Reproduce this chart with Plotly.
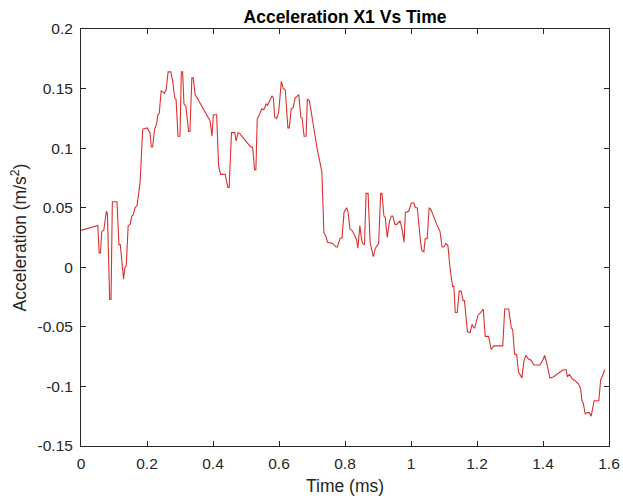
import plotly.graph_objects as go

time_ms = [0.000, 0.051, 0.055, 0.059, 0.063, 0.069, 0.077, 0.080, 0.087, 0.091,
           0.095, 0.109, 0.115, 0.119, 0.129, 0.133, 0.137, 0.143, 0.149, 0.154,
           0.158, 0.164, 0.170, 0.174, 0.177, 0.179, 0.187, 0.201, 0.209, 0.213,
           0.217, 0.223, 0.229, 0.233, 0.237, 0.243, 0.249, 0.253, 0.258, 0.264,
           0.272, 0.278, 0.284, 0.288, 0.294, 0.300, 0.304, 0.308, 0.312, 0.318,
           0.326, 0.330, 0.336, 0.340, 0.346, 0.391, 0.397, 0.401, 0.411, 0.417,
           0.423, 0.437, 0.445, 0.449, 0.456, 0.466, 0.470, 0.476, 0.482, 0.492,
           0.502, 0.514, 0.520, 0.526, 0.530, 0.534, 0.540, 0.548, 0.554, 0.561,
           0.565, 0.571, 0.579, 0.583, 0.587, 0.593, 0.599, 0.607, 0.613, 0.619,
           0.627, 0.631, 0.637, 0.643, 0.649, 0.660, 0.666, 0.670, 0.676, 0.682,
           0.686, 0.692, 0.716, 0.730, 0.736, 0.742, 0.747, 0.763, 0.773, 0.777,
           0.785, 0.791, 0.797, 0.805, 0.809, 0.815, 0.821, 0.829, 0.835, 0.839,
           0.845, 0.849, 0.853, 0.859, 0.864, 0.870, 0.876, 0.880, 0.886, 0.892,
           0.898, 0.902, 0.908, 0.912, 0.918, 0.922, 0.928, 0.932, 0.935, 0.941,
           0.945, 0.951, 0.957, 0.967, 0.973, 0.979, 0.983, 0.993, 1.001, 1.009,
           1.013, 1.019, 1.025, 1.029, 1.033, 1.039, 1.043, 1.049, 1.055, 1.061,
           1.078, 1.088, 1.094, 1.100, 1.106, 1.112, 1.118, 1.126, 1.130, 1.134,
           1.140, 1.146, 1.152, 1.158, 1.162, 1.171, 1.179, 1.185, 1.189, 1.193,
           1.203, 1.211, 1.219, 1.225, 1.235, 1.243, 1.251, 1.260, 1.278, 1.284,
           1.296, 1.304, 1.308, 1.314, 1.320, 1.326, 1.336, 1.342, 1.348, 1.356,
           1.364, 1.372, 1.391, 1.401, 1.405, 1.411, 1.421, 1.431, 1.461, 1.470,
           1.474, 1.480, 1.490, 1.496, 1.508, 1.514, 1.518, 1.522, 1.528, 1.534,
           1.540, 1.546, 1.555, 1.569, 1.575, 1.579, 1.587]

acceleration = [0.031, 0.035, 0.012, 0.012, 0.030, 0.031, 0.047, 0.045, -0.027, -0.027,
                0.055, 0.055, 0.019, 0.019, -0.010, 0.000, 0.001, 0.035, 0.036, 0.043,
                0.044, 0.050, 0.052, 0.063, 0.070, 0.071, 0.116, 0.117, 0.113, 0.101,
                0.101, 0.116, 0.120, 0.128, 0.129, 0.148, 0.147, 0.146, 0.149, 0.164,
                0.164, 0.156, 0.142, 0.141, 0.110, 0.110, 0.164, 0.164, 0.137, 0.135,
                0.114, 0.114, 0.159, 0.159, 0.145, 0.123, 0.110, 0.128, 0.128, 0.085,
                0.078, 0.078, 0.067, 0.067, 0.113, 0.113, 0.106, 0.113, 0.112, 0.108,
                0.105, 0.101, 0.101, 0.082, 0.082, 0.124, 0.128, 0.133, 0.132, 0.137,
                0.136, 0.140, 0.144, 0.142, 0.126, 0.125, 0.130, 0.156, 0.150, 0.149,
                0.117, 0.117, 0.133, 0.134, 0.142, 0.145, 0.126, 0.125, 0.110, 0.110,
                0.141, 0.140, 0.099, 0.080, 0.029, 0.026, 0.021, 0.020, 0.017, 0.017,
                0.024, 0.025, 0.046, 0.050, 0.047, 0.032, 0.031, 0.027, 0.023, 0.016,
                0.035, 0.026, 0.020, 0.019, 0.062, 0.062, 0.021, 0.016, 0.009, 0.016,
                0.019, 0.020, 0.062, 0.062, 0.043, 0.042, 0.025, 0.035, 0.039, 0.043,
                0.043, 0.036, 0.036, 0.039, 0.032, 0.021, 0.046, 0.047, 0.054, 0.054,
                0.050, 0.050, 0.029, 0.021, 0.014, 0.013, 0.024, 0.024, 0.050, 0.048,
                0.036, 0.030, 0.017, 0.017, 0.020, 0.018, 0.000, -0.016, -0.016, -0.038,
                -0.038, -0.020, -0.020, -0.028, -0.028, -0.054, -0.055, -0.048, -0.050, -0.051,
                -0.040, -0.038, -0.035, -0.058, -0.058, -0.069, -0.066, -0.066, -0.066, -0.035,
                -0.035, -0.051, -0.052, -0.073, -0.073, -0.088, -0.093, -0.079, -0.074, -0.077,
                -0.078, -0.082, -0.082, -0.077, -0.074, -0.080, -0.093, -0.092, -0.086, -0.086,
                -0.092, -0.090, -0.094, -0.095, -0.098, -0.102, -0.112, -0.114, -0.123, -0.122,
                -0.122, -0.125, -0.112, -0.112, -0.094, -0.092, -0.086]

x_tickvals = [0, 0.2, 0.4, 0.6, 0.8, 1.0, 1.2, 1.4, 1.6]
x_ticktext = ["0", "0.2", "0.4", "0.6", "0.8", "1", "1.2", "1.4", "1.6"]
y_tickvals = [-0.15, -0.1, -0.05, 0, 0.05, 0.1, 0.15, 0.2]
y_ticktext = ["-0.15", "-0.1", "-0.05", "0", "0.05", "0.1", "0.15", "0.2"]

axis_color = "#262626"
font_family = "Liberation Sans, Arial, sans-serif"

fig = go.Figure()
fig.add_trace(go.Scatter(x=time_ms, y=acceleration, mode="lines",
                         line=dict(color="rgb(220,48,48)", width=1.1),
                         showlegend=False))

common_axis = dict(showgrid=False, zeroline=False, showline=True, mirror="ticks",
                   linecolor=axis_color, linewidth=1, ticks="inside", ticklen=5,
                   tickcolor=axis_color, tickwidth=1, automargin=False,
                   tickfont=dict(family=font_family, size=15.5, color=axis_color))

fig.update_layout(
    width=623, height=504,
    margin=dict(l=81, r=14, t=29, b=58),
    paper_bgcolor="white", plot_bgcolor="white",
    title=dict(text="<b>Acceleration X1 Vs Time</b>", x=0.5538, xanchor="center",
               y=0.966, yanchor="middle",
               font=dict(family=font_family, size=17.5, color="black")),
    xaxis=dict(range=[0, 1.6], tickvals=x_tickvals, ticktext=x_ticktext,
               ticklabelstandoff=3,
               title=dict(text="Time (ms)", standoff=9,
                          font=dict(family=font_family, size=17.5, color=axis_color)),
               **common_axis),
    yaxis=dict(range=[-0.15, 0.2], tickvals=y_tickvals, ticktext=y_ticktext,
               ticklabelstandoff=4,
               title=dict(text="Acceleration (m/s<sup>2</sup>)", standoff=6,
                          font=dict(family=font_family, size=17.5, color=axis_color)),
               **common_axis),
)

fig.write_html("out.html")
